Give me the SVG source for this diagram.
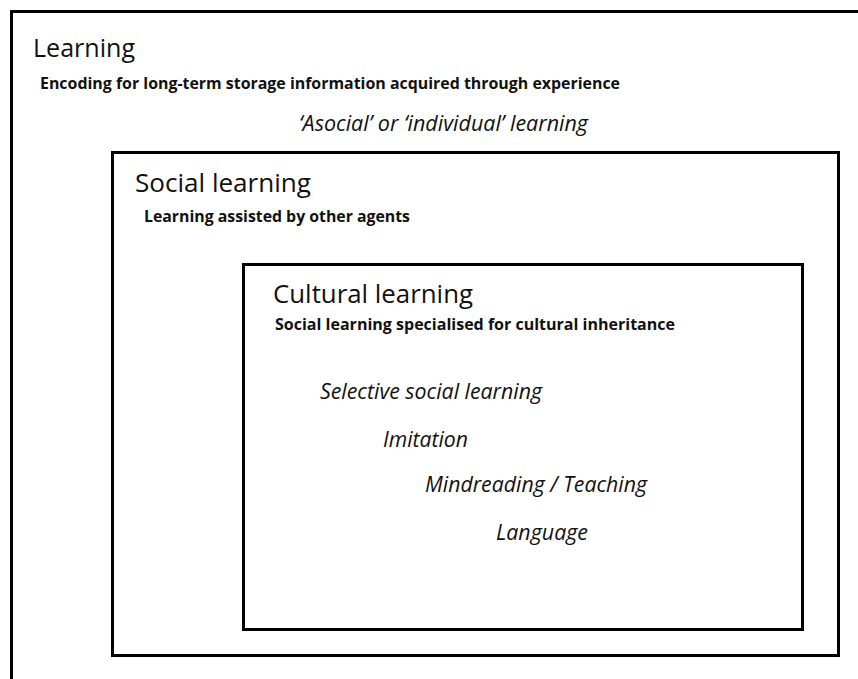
<svg xmlns="http://www.w3.org/2000/svg" width="858" height="679" viewBox="0 0 858 679">
<style>
.box{fill:none;stroke:#000;stroke-width:3}
text{font-family:"Open Sans","Noto Sans","Liberation Sans",sans-serif;fill:#111}
.title{font-size:26px}
.sub{font-size:16.5px;font-weight:bold}
.it{font-style:italic;font-size:21px}
</style>
<rect width="858" height="679" fill="#fff"/>
<g id="learning">
<rect class="box" x="11.5" y="11.5" width="860" height="700"/>
<text class="title" x="33" y="57" textLength="102" lengthAdjust="spacingAndGlyphs">Learning</text>
<text class="sub" x="40" y="89" textLength="580" lengthAdjust="spacingAndGlyphs">Encoding for long-term storage information acquired through experience</text>
<text class="it" x="299" y="131" font-size="18" textLength="289" lengthAdjust="spacingAndGlyphs">‘Asocial’ or ‘individual’ learning</text>
</g>
<g id="social-learning">
<rect class="box" x="112.5" y="152.5" width="726" height="503"/>
<text class="title" x="135" y="192" textLength="176" lengthAdjust="spacingAndGlyphs">Social learning</text>
<text class="sub" x="144" y="222" textLength="266" lengthAdjust="spacingAndGlyphs">Learning assisted by other agents</text>
</g>
<g id="cultural-learning">
<rect class="box" x="243.5" y="264.5" width="559" height="365"/>
<text class="title" x="273" y="303" textLength="200" lengthAdjust="spacingAndGlyphs">Cultural learning</text>
<text class="sub" x="275" y="330" textLength="400" lengthAdjust="spacingAndGlyphs">Social learning specialised for cultural inheritance</text>
<text class="it" x="320" y="399" textLength="222" lengthAdjust="spacingAndGlyphs">Selective social learning</text>
<text class="it" x="383" y="447" textLength="85" lengthAdjust="spacingAndGlyphs">Imitation</text>
<text class="it" x="425" y="492" textLength="222" lengthAdjust="spacingAndGlyphs">Mindreading / Teaching</text>
<text class="it" x="496" y="540" textLength="92" lengthAdjust="spacingAndGlyphs">Language</text>
</g>
<g id="connectors"/>
</svg>
